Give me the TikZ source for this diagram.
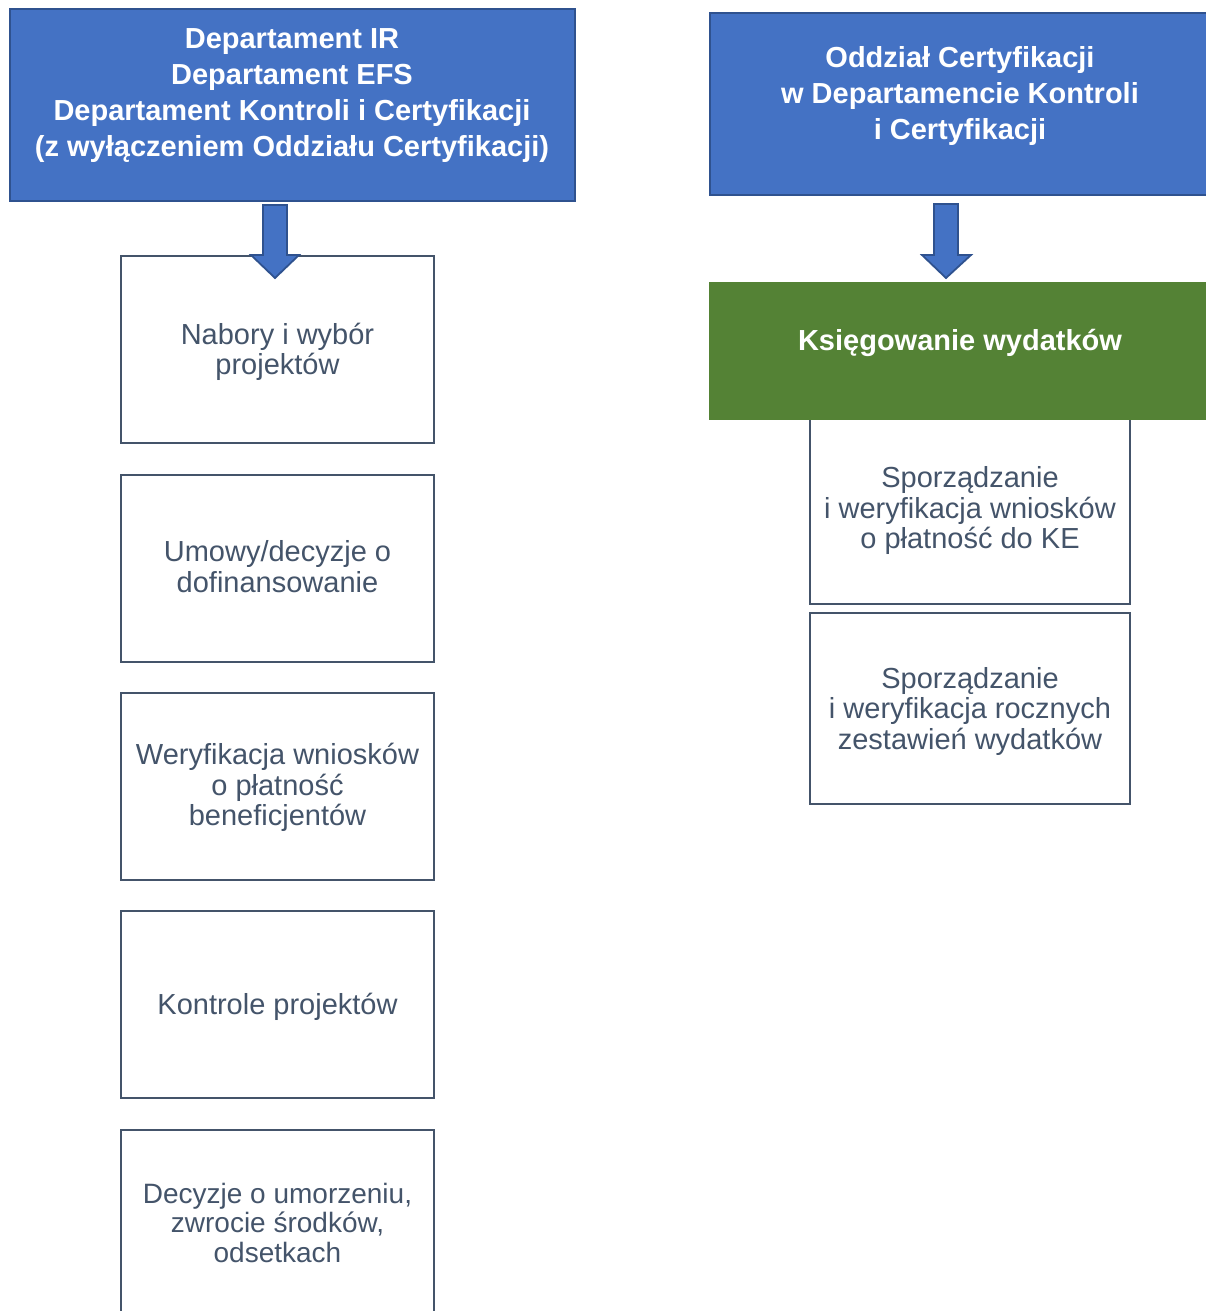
\documentclass[tikz,border=0pt]{standalone}
\usepackage{fontspec}
\setmainfont{Liberation Sans}
\usetikzlibrary{calc}
\definecolor{blueF}{HTML}{4472C4}
\definecolor{blueB}{HTML}{2F528F}
\definecolor{greenF}{HTML}{548235}
\definecolor{slate}{HTML}{44546A}
\tikzset{
  bluebox/.style={draw=blueB, line width=2pt, fill=blueF, inner sep=0pt},
  greenbox/.style={fill=greenF, inner sep=0pt},
  whitebox/.style={draw=slate, line width=2.4pt, fill=white, inner sep=0pt},
  wtext/.style={text=slate, align=center, inner sep=0pt, yshift=-2.5pt,
     font=\fontsize{29}{30.5}\selectfont},
  lbox/.style={whitebox, minimum width=313pt, minimum height=187pt},
  rbox/.style={whitebox, minimum width=320pt},
  headtext/.style={text=white, align=center, font=\fontsize{29}{36}\selectfont\bfseries, inner sep=0pt},
  barrow/.style={draw=blueB, line width=1.8pt, fill=blueF, line join=miter}
}
\begin{document}
\begin{tikzpicture}[x=1pt,y=-1pt]
\clip (0,0) rectangle (1206,1311);
\fill[white] (0,0) rectangle (1206,1311);
% top boxes
\node[bluebox, minimum width=565pt, minimum height=192pt] (L) at (292.5,105) {};
\node[headtext] (Lt) at (292,96) {Departament IR\\Departament EFS\\Departament Kontroli i Certyfikacji\\(z wyłączeniem Oddziału Certyfikacji)};
\node[bluebox, minimum width=506pt, minimum height=182pt] (R) at (963,104) {};
\node[headtext] (Rt) at (960,96) {Oddział Certyfikacji\\w Departamencie Kontroli\\i Certyfikacji};
% left column
\node[lbox, label={[wtext]center:{Nabory i wybór\\projektów}}] (b1) at (277.5,349.5) {};
\node[lbox, label={[wtext,yshift=4.5pt]center:{Umowy/decyzje o\\dofinansowanie}}] (b2) at (277.5,568.5) {};
\node[lbox, label={[wtext,yshift=1.5pt]center:{Weryfikacja wniosków\\o płatność\\beneficjentów}}] (b3) at (277.5,786.5) {};
\node[lbox, label={[wtext]center:{Kontrole projektów}}] (b4) at (277.5,1004.5) {};
\node[lbox, label={[wtext,yshift=3.5pt,font=\fontsize{28}{29.5}\selectfont]center:{Decyzje o umorzeniu,\\zwrocie środków,\\odsetkach}}] (b5) at (277.5,1223.5) {};
% right column
\node[rbox, minimum height=192pt, label={[wtext]center:{Sporządzanie\\i weryfikacja wniosków\\o płatność do KE}}] (r1) at (970,508) {};
\node[rbox, minimum height=191pt, label={[wtext]center:{Sporządzanie\\i weryfikacja rocznych\\zestawień wydatków}}] (r2) at (970,708.5) {};
\node[greenbox, minimum width=507pt, minimum height=138pt] (G) at (962.5,351) {};
\node[headtext] (Gt) at (960,343) {Księgowanie wydatków};
% block arrows
\coordinate (a1) at (275,205);
\coordinate (a1tip) at (275,278);
\draw[barrow] ($(a1)+(-12,0)$) -- ($(a1)+(12,0)$) -- ($(a1)+(12,50)$) -- ($(a1)+(24,50)$)
   -- (a1tip) -- ($(a1)+(-24,50)$) -- ($(a1)+(-12,50)$) -- cycle;
\coordinate (a2) at (946,204);
\coordinate (a2tip) at (946,278);
\draw[barrow] ($(a2)+(-12,0)$) -- ($(a2)+(12,0)$) -- ($(a2)+(12,51)$) -- ($(a2)+(25,51)$)
   -- (a2tip) -- ($(a2)+(-24,51)$) -- ($(a2)+(-12,51)$) -- cycle;
\end{tikzpicture}
\end{document}
